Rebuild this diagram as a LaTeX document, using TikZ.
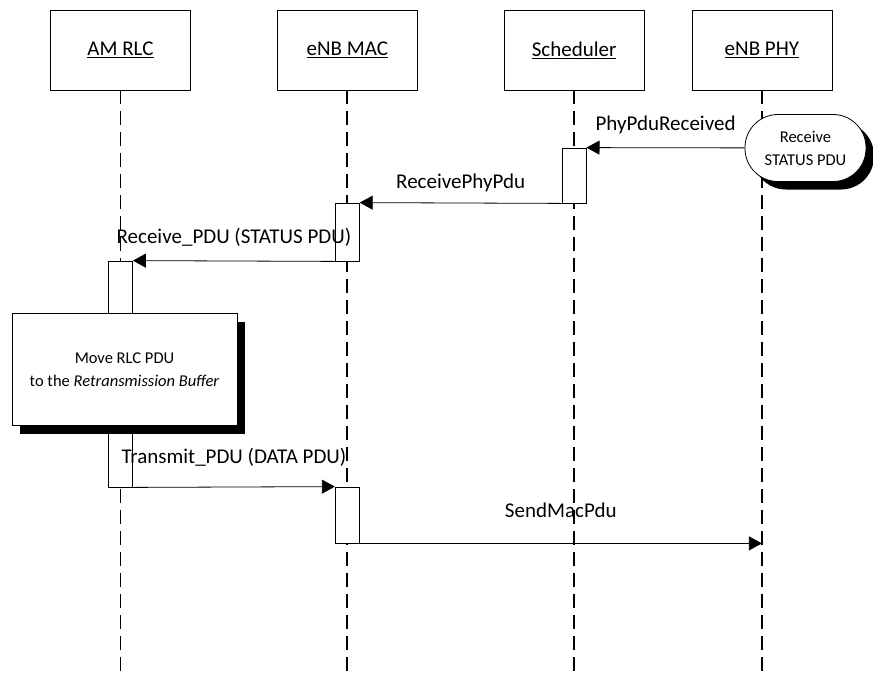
\documentclass[tikz,border=0pt]{standalone}
\usepackage{fontspec}
\setmainfont{Carlito}
\usepackage{tikz}
\usetikzlibrary{arrows.meta,positioning,shadows}
\tikzset{
  every picture/.style = {
    x = 1pt,
    y = -1pt,
    line width = 0.8pt,
    >={Triangle[length=13pt,width=14pt]},
    node distance = 86pt
  }
  , % boxes at the top of the lifelines
  object/.style = {
    rectangle,
    draw,
    fill = white,
    minimum width = 140pt,
    minimum height = 80pt,
    font = \fontsize{21}{25}\selectfont
  }
  ,
  lifeline/.style = {
    line width = 1.7pt,
    dash pattern = on 14pt off 7pt
  }
  , % activation bars
  active/.style = {
    rectangle,
    draw,
    fill = white,
    inner sep = 0pt,
    minimum width = 24pt
  }
  , % boxes with a black shadow
  memo/.style = {
    draw,
    fill = white,
    align = center,
    font = \fontsize{16.5}{23}\selectfont,
    drop shadow = {shadow xshift = 8pt, shadow yshift = -8pt, fill = black, opacity = 1}
  }
  , % labels of messages
  label-edge/.style = {
    font = \fontsize{21}{25}\selectfont,
    anchor = base,
    midway
  }
}

\begin{document}
\begin{tikzpicture}
    \useasboundingbox (0,0) rectangle (873,673);
    \node [object] (rlc) at (120.5,50) {\underline{AM RLC}};
    \node [object, right = of rlc] (mac) {\underline{eNB MAC}};
    \node [object, right = of mac] (sch) {\underline{Scheduler}};
    \node [object, right = 47pt of sch] (phy) {\underline{eNB PHY}};
    \foreach \o in {rlc,mac,sch,phy} {
      \coordinate (\o-end) at (\o.south |- 0,673);
      \draw [lifeline] (\o.south) -- (\o-end);
    }
    % activation bars
    \node [active, minimum height = 55pt] (sch1) at (sch.south |- 0,175.5) {};
    \node [active, minimum height = 58pt] (mac1) at (mac.south |- 0,232) {};
    \node [active, minimum height = 226pt] (rlc1) at (rlc.south |- 0,374) {};
    \node [active, minimum height = 56pt] (mac2) at (mac.south |- 0,515) {};
    % notes
    \node [memo, rounded corners = 33pt, minimum width = 121pt, minimum height = 67pt]
      (recv) at (805.5,148) {Receive\\STATUS PDU};
    \node [memo, minimum width = 225pt, minimum height = 112pt]
      (move) at (124.5,369.5) {Move RLC PDU\\to the \textit{Retransmission Buffer}};
    % messages
    \draw [->] (recv) -- (sch1.north east)
      node [label-edge, yshift = 17pt] {PhyPduReceived};
    \draw [->] (sch1.south west) -- (mac1.north east)
      node [label-edge, yshift = 15pt] {ReceivePhyPdu};
    \draw [->] (mac1.south west) -- (rlc1.north east)
      node [label-edge, yshift = 18pt] {Receive\_PDU (STATUS PDU)};
    \draw [->] (rlc1.south east) -- (mac2.north west)
      node [label-edge, yshift = 24pt] {Transmit\_PDU (DATA PDU)};
    \coordinate (phy-in) at (phy.south |- mac2.south);
    \draw [->] (mac2.south east) -- (phy-in)
      node [label-edge, yshift = 26pt] {SendMacPdu};
\end{tikzpicture}
\end{document}
